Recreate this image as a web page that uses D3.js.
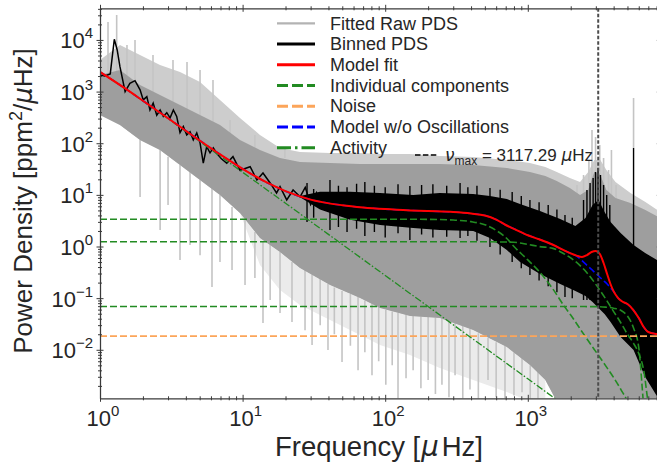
<!DOCTYPE html>
<html>
<head>
<meta charset="utf-8">
<script src="https://cdn.jsdelivr.net/npm/d3@7"></script>
<style>
  body { margin: 0; background: #fff; }
  text { font-family: "Liberation Sans", Arial, sans-serif; fill: #262626; }
  .math { font-family: "DejaVu Sans", sans-serif; font-style: italic; }
</style>
</head>
<body>
<div id="chart"></div>
<script>
// ---- valores ----
const numax = 3117.29;

// PDS crudo: banda densa (frecuencia, techo, piso)
const rawFreq = [1, 1.381, 1.908, 2.635, 3.64, 5.027, 6.943, 9.589, 13.24, 18.29, 25.26, 41.05, 66.63, 92, 149.3, 241.6, 413.6, 712.8, 1035, 1327, 1597, 1973, 2325, 2652, 2925, 3226, 3557, 4121, 5245, 6678, 8496];
const rawHi = [2100, 2625, 1347, 861, 551, 353, 226, 116, 74, 51.8, 43.3, 41.5, 39.6, 39.6, 39.6, 39.6, 37.9, 33.2, 27.8, 23.2, 18.6, 13.6, 9.95, 12.4, 27.8, 24.3, 12.4, 8.7, 6.96, 5.09, 3.56];
const rawLo = [353, 226, 116, 74, 37.9, 19.4, 9.95, 4.46, 1.46, 0.782, 0.384, 0.18, 0.1005, 0.0644, 0.0451, 0.0412, 0.0241, 0.0113, 0.00506, 0.00259, 0.001, 0.001, 0.001, 0.001, 0.001, 0.001, 0.001, 0.001, 0.001, 0.001, 0.001];
// PDS crudo: envolvente exterior clara
const rawOuter = [4100, 8010, 5130, 3280, 2400, 1537, 689, 308, 145, 81, 67.7, 64.7, 64.7, 61.9, 61.9, 56.6, 54.2, 47.4, 41.5, 34.7, 27.8, 21.2, 17.8, 27.8, 47.4, 47.4, 30.3, 17.8, 10.9, 7.28, 4.66];
// zona clara bajo la banda
const lowFreq = [9.589, 13.24, 18.29, 25.26, 41.05, 66.63, 92, 149.3, 241.6, 413.6, 712.8, 1035, 1327];
const lowTop = [4.46, 1.46, 0.782, 0.384, 0.18, 0.1005, 0.0644, 0.0451, 0.0412, 0.0241, 0.0113, 0.00506, 0.00259];
const lowFloor = [4.46, 0.438, 0.144, 0.0736, 0.0377, 0.0193, 0.0124, 0.0079, 0.00443, 0.00259, 0.00152, 0.001, 0.001];
// picos sueltos del PDS crudo [f, abajo, arriba]
const rawSpikes = [
  [1.138, 2100, 22300], [1.309, 2400, 30500], [1.546, 1680, 8010], [1.76, 1680, 10000],
  [2.353, 984, 5130], [3.25, 630, 4100], [4.075, 441, 3750], [5.03, 353, 2625],
  [6.2, 258, 1680], [8.17, 132, 282], [12.2, 74, 145], [19.8, 51.8, 81],
  [1.91, 9.1, 116], [2.64, 2.09, 74], [3.0, 6.4, 55], [3.64, 0.55, 38], [4.28, 1.07, 28],
  [5.03, 0.68, 19.4], [6.1, 0.164, 13.6], [6.94, 0.5, 9.95], [8.43, 0.35, 5.8],
  [10.4, 0.18, 3.26], [12.2, 0.245, 1.91], [13.9, 0.033, 1.28], [15.6, 0.092, 1.07],
  [18.3, 0.0515, 0.78], [22.2, 0.0344, 0.5], [27.4, 0.024, 0.35], [30.7, 0.0124, 0.29],
  [35, 0.03, 0.25], [39.7, 0.0099, 0.19], [44, 0.02, 0.16], [49.8, 0.0058, 0.137],
  [57, 0.012, 0.12], [64.5, 0.004, 0.105], [72, 0.009, 0.09], [80.8, 0.0032, 0.08],
  [90, 0.006, 0.07], [101, 0.0021, 0.059], [112, 0.005, 0.055], [123, 0.001, 0.0515],
  [140, 0.0028, 0.048], [157, 0.004, 0.045], [178, 0.0018, 0.044], [200, 0.0026, 0.043],
  [225, 0.0014, 0.042], [250, 0.0021, 0.041], [280, 0.0012, 0.038], [309, 0.0032, 0.034],
  [350, 0.0011, 0.03], [393, 0.0017, 0.026], [450, 0.0011, 0.021], [526, 0.0026, 0.017],
  [600, 0.0012, 0.014], [692, 0.001, 0.012], [800, 0.0013, 0.009], [911, 0.0015, 0.0069],
  [1040, 0.001, 0.005], [1179, 0.001, 0.004],
  [2213, 8, 15.5], [2460, 8, 24.3], [2683, 8, 47.6], [2820, 8, 181], [2987, 8, 132],
  [3196, 8, 92.5], [3400, 8, 51.8], [3686, 8, 30.3], [3860, 8, 74], [4158, 8, 15.5],
  [5517, 81, 753], [6966, 0.5, 2.85]
];

// PDS binneado: línea a baja frecuencia
const binFreq = [1.00, 1.08, 1.18, 1.26, 1.32, 1.38, 1.50, 1.62, 1.76, 1.91, 2.01, 2.13, 2.24, 2.36, 2.50, 2.64, 2.78, 2.94, 3.10, 3.27, 3.45, 3.64, 3.84, 4.06, 4.28, 4.51, 4.77, 5.03, 5.30, 5.60, 5.91, 6.23, 6.58, 7.1, 7.74, 8.56, 9.59, 11.3, 12.6, 13.9, 15.6, 17.3, 18.3, 20.4, 22.6, 25.3, 27.5, 30, 33, 36, 40];
const binP = [2100, 2010, 2200, 10300, 6400, 3040, 1000, 1450, 1630, 1080, 690, 800, 440, 600, 350, 440, 330, 390, 310, 440, 330, 160, 210, 145, 167, 116, 158, 101, 41, 86, 65, 81, 64, 50, 41, 55, 30, 35, 19.4, 26.5, 17, 10.9, 14.4, 8, 12.4, 9.2, 14, 6.5, 11, 5.5, 9];
// PDS binneado: banda a alta frecuencia
const binBandFreq = [25.3, 34.9, 56.7, 92, 157, 241, 414, 543, 713, 882, 1218, 1688, 2156, 2539, 2846, 3132, 3453, 3806, 4475, 5517, 6654, 8496];
const binBandHi = [9.5, 11.5, 11.5, 10.9, 9.95, 10.9, 10.4, 9.51, 8.32, 6.66, 4.87, 3.41, 2.5, 3.56, 6.37, 7.96, 4.66, 2.99, 1.83, 1.07, 0.748, 0.501];
const binBandLo = [9, 5.2, 3.3, 2.6, 2.28, 2.09, 2.0, 1.46, 0.855, 0.501, 0.293, 0.188, 0.138, 0.11, 0.0841, 0.0644, 0.0492, 0.0344, 0.0177, 0.00988, 0.00296, 0.001];
const binSpikes = [
  [28.3, 2.98, 17], [31.5, 3.6, 13], [41, 2.09, 19.4], [47, 2.4, 15], [54, 1.9, 14], [63, 2.2, 16.5],
  [72, 1.6, 17.8], [84, 1.9, 15], [100, 1.5, 14], [123, 1.8, 16], [149, 1.34, 14.9], [180, 1.7, 15.5],
  [216, 1.5, 16], [270, 1.55, 15], [335, 1.46, 17], [380, 1.6, 14], [440, 1.3, 15],
  [543, 0.978, 13.6], [640, 0.7, 12.5], [777, 0.501, 11.4], [900, 0.38, 9.5], [1035, 0.28, 7.96],
  [1200, 0.22, 7.2], [1390, 0.17, 6.37], [1600, 0.13, 5.2], [1823, 0.105, 4.07], [2050, 0.1, 3.6],
  [2460, 0.092, 7.96], [2599, 0.092, 12.4], [2733, 0.092, 16.9],
  [2872, 0.092, 21.2], [2987, 0.092, 27.8], [3108, 0.092, 33.3], [3235, 0.092, 24.2],
  [3400, 0.092, 15.5], [3575, 0.07, 9.95], [3759, 0.05, 6.37], [5517, 0.05, 81], [6966, 0.01, 0.684]
];

// modelo
const modelFreq = [1, 1.5, 2, 3, 5, 7, 10, 15, 20, 30, 50, 70, 100, 150, 200, 300, 400, 500, 600, 700, 800, 1000, 1200, 1500, 1800, 2000, 2200, 2400, 2600, 2800, 3000, 3200, 3400, 3600, 3800, 4000, 4300, 4600, 5000, 5500, 6000, 6500, 7000, 8000, 8496];
const modelFit = [2400, 1150, 665, 305, 113, 60, 32, 17, 11.8, 8.1, 6.3, 5.7, 5.3, 5.0, 4.85, 4.65, 4.35, 3.99, 3.33, 2.61, 2.2, 1.65, 1.38, 1.08, 0.84, 0.735, 0.665, 0.628, 0.684, 0.782, 0.818, 0.716, 0.479, 0.293, 0.188, 0.135, 0.1005, 0.0861, 0.0769, 0.0589, 0.0412, 0.0276, 0.0221, 0.0202, 0.0197];
const modelNoOsc = [2400, 1150, 665, 305, 113, 60, 32, 17, 11.8, 8.1, 6.3, 5.7, 5.3, 5.0, 4.85, 4.65, 4.35, 3.99, 3.33, 2.61, 2.2, 1.65, 1.38, 1.08, 0.84, 0.735, 0.655, 0.533, 0.432, 0.36, 0.301, 0.254, 0.218, 0.188, 0.158, 0.135, 0.1005, 0.0861, 0.0769, 0.0589, 0.0412, 0.0276, 0.0221, 0.0202, 0.0197];

const compFreq = [1, 100, 200, 300, 400, 500, 600, 700, 800, 1000, 1200, 1500, 1800, 2000, 2500, 3000, 3500, 4000, 4500, 5000, 5500, 6000, 6500, 7000, 8000, 8496];
const harvey1 = [3.37, 3.37, 3.36, 3.25, 3.03, 2.64, 2.05, 1.5, 1.0, 0.55, 0.33, 0.15, 0.07, 0.047, 0.019, 0.0092, 0.005, 0.0029, 0.0017, 0.001, 0.0005, 0.0003, 0.0002, 0.0001, 0.0001, 0.0001];
const harvey2 = [1.24, 1.24, 1.24, 1.24, 1.24, 1.235, 1.23, 1.22, 1.21, 1.1, 1.0, 0.92, 0.72, 0.6, 0.35, 0.185, 0.099, 0.055, 0.033, 0.02, 0.0135, 0.0085, 0.004, 0.0009, 0.0002, 0.0001];
const harvey3 = [0.0688, 0.0688, 0.0688, 0.0688, 0.0688, 0.0688, 0.0688, 0.0688, 0.0688, 0.0688, 0.0688, 0.0688, 0.0688, 0.0688, 0.0687, 0.0685, 0.067, 0.064, 0.058, 0.045, 0.027, 0.011, 0.0008, 0.0001, 0.0001, 0.0001];

const actFreq = [1, 1.5, 2, 3, 5, 7, 10, 15, 20, 30, 50, 70, 100, 150, 200, 300, 500, 700, 1000, 1500, 2000];
const activity = [2395, 1145, 660, 300, 108, 55.6, 27.4, 12.2, 6.9, 3.05, 1.1, 0.56, 0.275, 0.122, 0.069, 0.0305, 0.011, 0.0056, 0.00275, 0.00122, 0.00069];

const noiseFreq = [1, 8496];
const noise = [0.01845, 0.01845];

const xMajor = [1, 10, 100, 1000];
const yMajor = [1e-2, 1e-1, 1, 10, 100, 1000, 10000];

// ---- dibujo ----
const width = 657, height = 468;
const pL = 100, pR = 660.3, pT = 8.3, pB = 398.3;

const x = d3.scaleLog().domain([1, 8496]).range([pL, pR]);
const y = d3.scaleLog().domain([1.15e-3, 4.1e4]).range([pB, pT]);

const svg = d3.select("#chart").append("svg")
  .attr("width", width).attr("height", height)
  .style("display", "block");
svg.append("rect").attr("width", width).attr("height", height).attr("fill", "#fff");

svg.append("clipPath").attr("id", "clip")
  .append("rect").attr("x", pL).attr("y", pT)
  .attr("width", pR - pL).attr("height", pB - pT);

const plot = svg.append("g").attr("clip-path", "url(#clip)");

const band = d3.area().x(d => x(d[0])).y0(d => y(d[2])).y1(d => y(d[1]));
const jag = d3.line().x(d => x(d[0])).y(d => y(d[1]));
const smooth = d3.line().x(d => x(d[0])).y(d => y(d[1])).curve(d3.curveMonotoneX);

// crudo
plot.append("path").datum(d3.zip(rawFreq, rawOuter, rawLo))
  .attr("d", band).attr("fill", "#cdcdcd");
plot.append("path").datum(d3.zip(lowFreq, lowTop, lowFloor))
  .attr("d", band).attr("fill", "#ebebeb");
plot.selectAll(".rspike").data(rawSpikes).enter().append("line")
  .attr("x1", d => x(d[0])).attr("x2", d => x(d[0]))
  .attr("y1", d => y(d[1])).attr("y2", d => y(d[2]))
  .attr("stroke", "#c4c4c4").attr("stroke-width", 1.6);
plot.append("path").datum(d3.zip(rawFreq, rawHi, rawLo))
  .attr("d", band).attr("fill", "#9e9e9e");

// binneado
plot.append("path").datum(d3.zip(binBandFreq, binBandHi, binBandLo))
  .attr("d", band).attr("fill", "#000");
plot.selectAll(".bspike").data(binSpikes).enter().append("line")
  .attr("x1", d => x(d[0])).attr("x2", d => x(d[0]))
  .attr("y1", d => y(d[1])).attr("y2", d => y(d[2]))
  .attr("stroke", "#000").attr("stroke-width", 1.4);
plot.append("path").datum(d3.zip(binFreq, binP))
  .attr("d", jag).attr("fill", "none").attr("stroke", "#000").attr("stroke-width", 1.5);

// componentes
const green = "#228b22";
[harvey1, harvey2, harvey3].forEach(h => {
  plot.append("path").datum(d3.zip(compFreq, h))
    .attr("d", smooth).attr("fill", "none")
    .attr("stroke", green).attr("stroke-width", 1.6).attr("stroke-dasharray", "7,3");
});
plot.append("path").datum(d3.zip(noiseFreq, noise))
  .attr("d", jag).attr("fill", "none")
  .attr("stroke", "#fca55a").attr("stroke-width", 1.8).attr("stroke-dasharray", "7,3");
plot.append("path").datum(d3.zip(actFreq, activity))
  .attr("d", smooth).attr("fill", "none")
  .attr("stroke", green).attr("stroke-width", 1.3).attr("stroke-dasharray", "7,2,1.5,2");
plot.append("path").datum(d3.zip(modelFreq, modelNoOsc))
  .attr("d", smooth).attr("fill", "none")
  .attr("stroke", "#0000ff").attr("stroke-width", 1.6).attr("stroke-dasharray", "7,3");
plot.append("path").datum(d3.zip(modelFreq, modelFit))
  .attr("d", smooth).attr("fill", "none")
  .attr("stroke", "#ff0000").attr("stroke-width", 2);

// linea numax
plot.append("line")
  .attr("x1", x(numax)).attr("x2", x(numax)).attr("y1", pT).attr("y2", pB)
  .attr("stroke", "#4d4d4d").attr("stroke-width", 2).attr("stroke-dasharray", "3.5,2");

// ---- ejes ----
const minorOf = (lo, hi) => {
  const out = [];
  for (let e = lo; e <= hi; e++) for (let m = 2; m <= 9; m++) out.push(m * Math.pow(10, e));
  return out;
};
const xMinor = minorOf(0, 3).filter(v => v < 8496);
const yMinor = minorOf(-3, 4).filter(v => v > 1.15e-3 && v < 4.1e4);

function inout(g, a, b, vertical) {
  g.select(".domain").attr("stroke", "#3a3a3a").attr("stroke-width", 1.25);
  g.selectAll(".tick line").attr("stroke", "#3a3a3a").attr("stroke-width", 1)
    .attr(vertical ? "y1" : "x1", a).attr(vertical ? "y2" : "x2", b);
  g.selectAll(".tick text").remove();
}

const axes = [
  { gen: d3.axisBottom(x), t: `translate(0,${pB})`, v: true, s: 1, ticks: [xMajor, xMinor] },
  { gen: d3.axisTop(x), t: `translate(0,${pT})`, v: true, s: -1, ticks: [xMajor, xMinor] },
  { gen: d3.axisLeft(y), t: `translate(${pL},0)`, v: false, s: -1, ticks: [yMajor, yMinor] },
  { gen: d3.axisRight(y), t: `translate(${pR},0)`, v: false, s: 1, ticks: [yMajor, yMinor] }
];
axes.forEach(ax => {
  const gMaj = svg.append("g").attr("transform", ax.t)
    .call(ax.gen.tickValues(ax.ticks[0]).tickSizeOuter(0).tickFormat(""));
  inout(gMaj, -3.5 * ax.s, 3.5 * ax.s, ax.v);
  const gMin = svg.append("g").attr("transform", ax.t)
    .call(ax.gen.tickValues(ax.ticks[1]).tickSizeOuter(0).tickFormat(""));
  inout(gMin, -2 * ax.s, 2 * ax.s, ax.v);
  gMin.select(".domain").remove();
});

const expo = v => {
  const e = Math.round(Math.log10(v));
  return e < 0 ? "\u2212" + (-e) : String(e);
};

svg.append("g").selectAll("text").data(xMajor).enter().append("text")
  .attr("x", d => x(d) + 3).attr("y", pB + 28)
  .attr("text-anchor", "middle").attr("font-size", 22)
  .each(function (d) {
    const t = d3.select(this);
    t.append("tspan").text("10");
    t.append("tspan").attr("dy", -10).attr("font-size", 15).text(expo(d));
  });

svg.append("g").selectAll("text").data(yMajor).enter().append("text")
  .attr("x", 93).attr("y", d => y(d) + 8.5)
  .attr("text-anchor", "end").attr("font-size", 22)
  .each(function (d) {
    const t = d3.select(this);
    t.append("tspan").text("10");
    t.append("tspan").attr("dy", -10).attr("font-size", 15).text(expo(d));
  });

// títulos de ejes
const xt = svg.append("text").attr("x", 379).attr("y", 456)
  .attr("text-anchor", "middle").attr("font-size", 27.5);
xt.append("tspan").text("Frequency [");
xt.append("tspan").attr("class", "math").attr("dx", 1).text("\u03bc");
xt.append("tspan").attr("dx", 3).text("Hz]");

const yt = svg.append("text")
  .attr("transform", "translate(32,201) rotate(-90)")
  .attr("text-anchor", "middle").attr("font-size", 26);
yt.append("tspan").text("Power Density [ppm");
yt.append("tspan").attr("dy", -10).attr("font-size", 18).text("2");
yt.append("tspan").attr("dy", 10).text("/");
yt.append("tspan").attr("class", "math").text("\u03bc");
yt.append("tspan").text("Hz]");

// ---- leyenda ----
const legendLabels = ["Fitted Raw PDS", "Binned PDS", "Model fit", "Individual components", "Noise", "Model w/o Oscillations", "Activity"];
const legendColors = ["#b3b3b3", "#000", "#ff0000", green, "#fca55a", "#0000ff", green];
const legendDash = [null, null, null, "11,4", "11,4", "11,4", "14,4,2.5,4"];
const legendWidth = [2.3, 3, 3, 3, 3, 3, 3];

const leg = svg.append("g");
legendLabels.forEach((lab, i) => {
  const ly = 23.3 + i * 20.73;
  leg.append("line").attr("x1", 277).attr("x2", 315).attr("y1", ly).attr("y2", ly)
    .attr("stroke", legendColors[i]).attr("stroke-width", legendWidth[i])
    .attr("stroke-dasharray", legendDash[i]);
  leg.append("text").attr("x", 330).attr("y", ly + 6.2).attr("font-size", 18).text(lab);
});

leg.append("line").attr("x1", 415).attr("x2", 438).attr("y1", 155).attr("y2", 155)
  .attr("stroke", "#000").attr("stroke-width", 1.5).attr("stroke-dasharray", "5.5,2.4");
const nt = leg.append("text").attr("x", 445).attr("y", 161).attr("font-size", 17);
nt.append("tspan").attr("class", "math").text("\u03bd");
nt.append("tspan").attr("dy", 4).attr("font-size", 12).text("max");
nt.append("tspan").attr("dy", -4).text(" = 3117.29 ");
nt.append("tspan").attr("class", "math").text("\u03bc");
nt.append("tspan").text("Hz");
</script>
</body>
</html>
